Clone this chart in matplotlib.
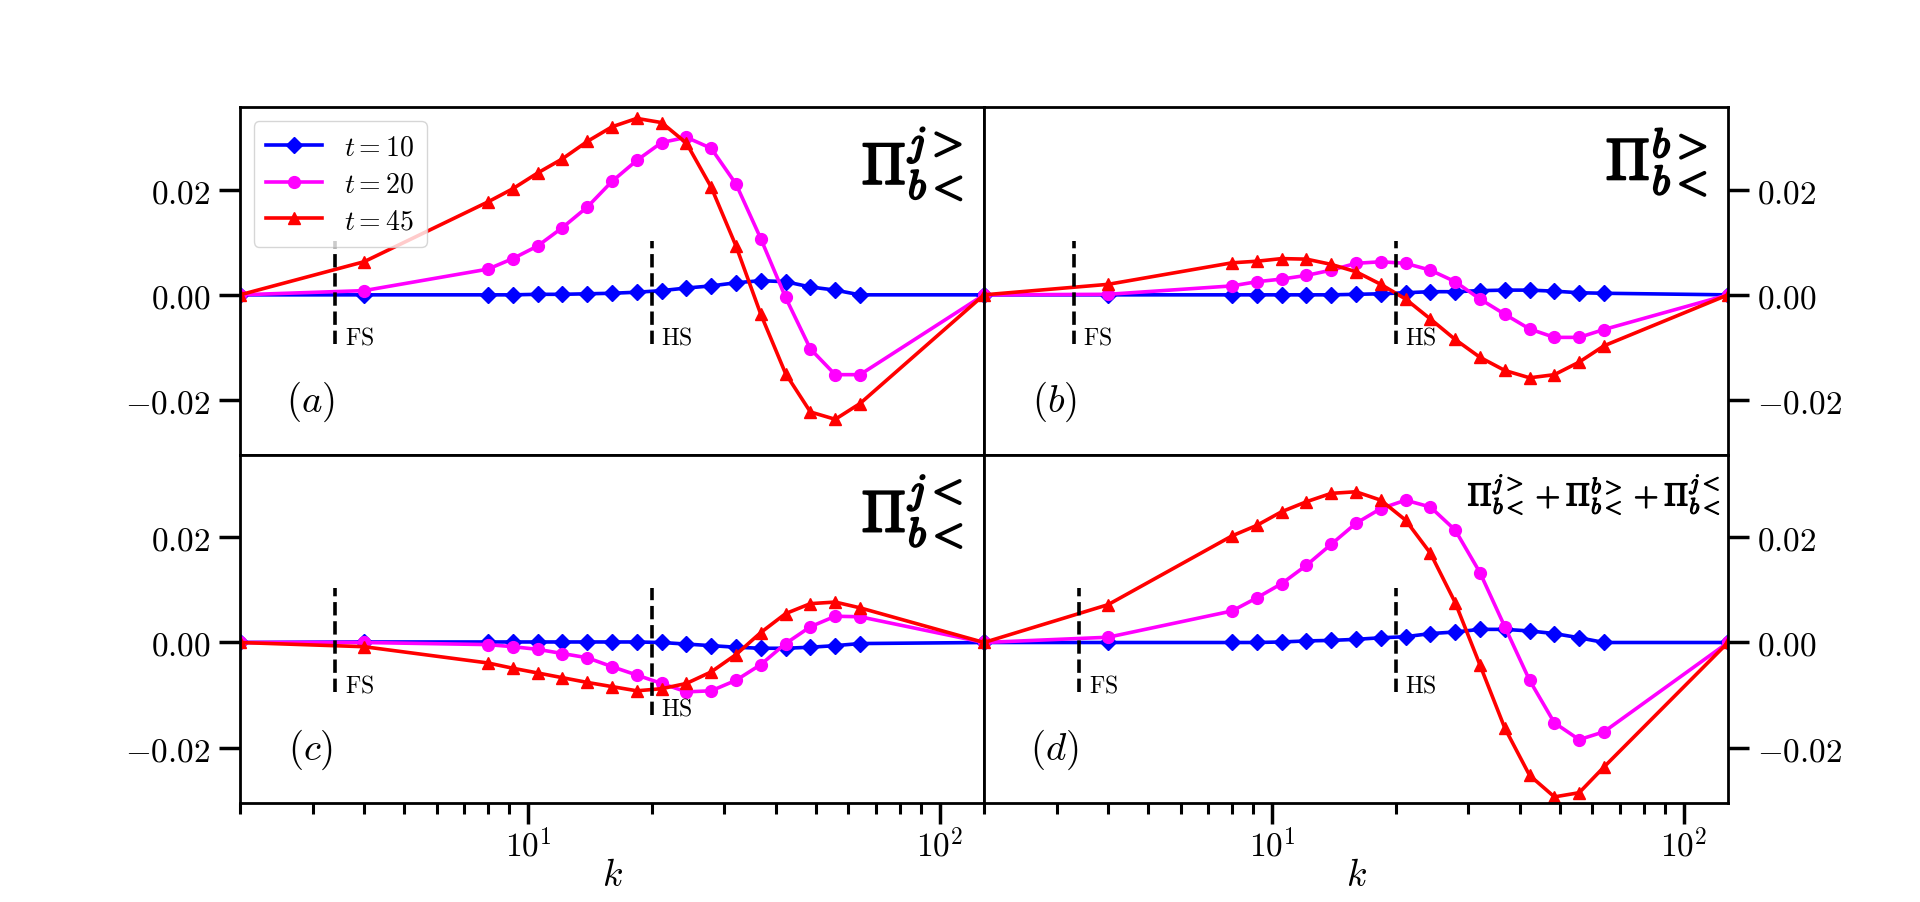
import numpy as np
import matplotlib
matplotlib.use("Agg")
import matplotlib.pyplot as plt
from matplotlib.ticker import FixedLocator, FuncFormatter, LogLocator, NullFormatter
import matplotlib.patheffects as pe

plt.rcParams['mathtext.fontset'] = 'cm'
plt.rcParams['font.family'] = ['DejaVu Serif']

# wavenumbers (shells)
k = [2, 4] + [2 ** (3 + 0.2 * i) for i in range(16)] + [128]

labels = [r'$t=10$', r'$t=20$', r'$t=45$']

# panel (a)  Pi^{j>}_{b<}
a_t10 = [0, 0, 0, 0, 0.0001, 0.0001, 0.0002, 0.0003, 0.0005, 0.0008, 0.0013, 0.0017,
         0.0023, 0.0027, 0.0025, 0.0015, 0.0009, 0.0, 0]
a_t20 = [0, 0.0008, 0.0049, 0.0069, 0.0093, 0.0128, 0.0167, 0.0216, 0.0256, 0.0290, 0.0300,
         0.0279, 0.0211, 0.0107, -0.0005, -0.0103, -0.0152, -0.0152, 0]
a_t45 = [0, 0.0063, 0.0177, 0.0202, 0.0232, 0.0259, 0.0292, 0.0320, 0.0336, 0.0328, 0.0289,
         0.0205, 0.0093, -0.0037, -0.0150, -0.0223, -0.0237, -0.0207, 0]

# panel (b)  Pi^{b>}_{b<}
b_t10 = [0, 0, 0, 0, 0, 0, 0, 0.0001, 0.0002, 0.0004, 0.0006, 0.0006, 0.0008, 0.0009,
         0.0009, 0.0007, 0.0004, 0.0003, 0]
b_t20 = [0, 0.0001, 0.0017, 0.0025, 0.0030, 0.0037, 0.0047, 0.0060, 0.0063, 0.0060, 0.0047,
         0.0025, -0.0008, -0.0037, -0.0065, -0.0081, -0.0081, -0.0066, 0]
b_t45 = [0, 0.0020, 0.0061, 0.0064, 0.0069, 0.0068, 0.0058, 0.0044, 0.0020, -0.0008, -0.0046,
         -0.0085, -0.0119, -0.0144, -0.0158, -0.0152, -0.0128, -0.0097, 0]

# panel (c)  Pi^{j<}_{b<}
c_t10 = [0, 0.0001, 0.0001, 0.0001, 0.0001, 0.0001, 0.0001, 0.0001, 0.0001, 0, -0.0003,
         -0.0006, -0.0009, -0.0011, -0.0011, -0.0009, -0.0006, -0.0002, 0]
c_t20 = [0, 0.0000, -0.0004, -0.0008, -0.0013, -0.0021, -0.0029, -0.0046, -0.0062, -0.0078,
         -0.0094, -0.0092, -0.0072, -0.0042, -0.0002, 0.0030, 0.0050, 0.0049, 0]
c_t45 = [0, -0.0008, -0.0039, -0.0049, -0.0058, -0.0067, -0.0076, -0.0084, -0.0092, -0.0088,
         -0.0078, -0.0056, -0.0023, 0.0019, 0.0055, 0.0074, 0.0077, 0.0066, 0]

# panel (d)  sum
d_t10 = [0, 0, 0, 0, 0.0001, 0.0003, 0.0004, 0.0006, 0.0009, 0.0011, 0.0017, 0.0020, 0.0025,
         0.0025, 0.0022, 0.0017, 0.0009, 0.0, 0]
d_t20 = [0, 0.0010, 0.0060, 0.0085, 0.0112, 0.0147, 0.0187, 0.0227, 0.0255, 0.0271, 0.0258,
         0.0214, 0.0133, 0.0030, -0.0072, -0.0153, -0.0185, -0.0170, 0]
d_t45 = [0, 0.0072, 0.0203, 0.0223, 0.0249, 0.0268, 0.0284, 0.0287, 0.0271, 0.0233, 0.0170,
         0.0076, -0.0043, -0.0163, -0.0253, -0.0294, -0.0286, -0.0237, 0]

# scale markers: forcing scale (FS) and hyper-viscous scale (HS)
fs_k = [3.4, 3.3, 3.4, 3.4]
hs_k = [20, 20, 20, 20]
fs_span = [(-0.0094, 0.0102), (-0.0094, 0.0102), (-0.0094, 0.0103), (-0.0094, 0.0103)]
hs_span = [(-0.0094, 0.0102), (-0.0094, 0.0102), (-0.0138, 0.0103), (-0.0094, 0.0103)]

titles = [r'$\Pi^{j>}_{b<}$', r'$\Pi^{b>}_{b<}$', r'$\Pi^{j<}_{b<}$',
          r'$\Pi^{j>}_{b<}+\Pi^{b>}_{b<}+\Pi^{j<}_{b<}$']
panel_tags = [r'$(a)$', r'$(b)$', r'$(c)$', r'$(d)$']

data = [(a_t10, a_t20, a_t45), (b_t10, b_t20, b_t45), (c_t10, c_t20, c_t45), (d_t10, d_t20, d_t45)]

colors = ['#0000ff', '#ff00ff', '#ff0000']
markers = ['D', 'o', '^']
msizes = [8, 8.5, 9]

fig, axes = plt.subplots(2, 2, figsize=(19.2, 9.03), dpi=100, sharex=True, sharey=True)
fig.subplots_adjust(wspace=0, hspace=0)

yticks = [-0.02, 0.0, 0.02]
ytick_fmt = FuncFormatter(lambda v, p: r'$%.2f$' % v if abs(v) > 1e-9 else r'$0.00$')
xtick_fmt = FuncFormatter(lambda v, p: r'$10^{%d}$' % int(round(np.log10(v))))

for i, ax in enumerate(axes.flat):
    series = data[i]
    for s, c, m, ms, lab in zip(series, colors, markers, msizes, labels):
        ax.plot(k, s, color=c, marker=m, ms=ms, lw=2.6, label=lab, clip_on=True)
    lo, hi = fs_span[i]
    ax.plot([fs_k[i], fs_k[i]], [lo, hi], 'k--', lw=2.6, zorder=5)
    ax.text(fs_k[i] * 1.055, lo - 0.0008, r'$\mathrm{FS}$', fontsize=17, ha='left', va='bottom')
    lo, hi = hs_span[i]
    ax.plot([hs_k[i], hs_k[i]], [lo, hi], 'k--', lw=2.6, zorder=5)
    ax.text(hs_k[i] * 1.055, lo - 0.0008, r'$\mathrm{HS}$', fontsize=17, ha='left', va='bottom')

    ax.set_xscale('log')
    ax.set_xlim(2, 128)
    ax.set_ylim(-0.0305, 0.0357)
    ax.yaxis.set_major_locator(FixedLocator(yticks))
    ax.yaxis.set_major_formatter(ytick_fmt)
    ax.xaxis.set_major_locator(LogLocator(base=10))
    ax.xaxis.set_major_formatter(xtick_fmt)
    ax.xaxis.set_minor_locator(LogLocator(base=10, subs=np.arange(2, 10)))
    ax.xaxis.set_minor_formatter(NullFormatter())

    for sp in ax.spines.values():
        sp.set_linewidth(2.0)

    ax.tick_params(axis='both', which='major', direction='out', length=15, width=2.5,
                   labelsize=24, pad=6)
    ax.tick_params(axis='x', which='major', pad=3)
    ax.tick_params(axis='x', which='minor', direction='out', length=8, width=2.2)
    ax.tick_params(axis='x', top=False, which='both')
    row, col = divmod(i, 2)
    if row == 0:
        ax.tick_params(axis='x', which='both', bottom=False, labelbottom=False)
    else:
        ax.set_xlabel(r'$k$', fontsize=27, labelpad=-4)
    if col == 0:
        ax.tick_params(axis='y', left=True, right=False, labelleft=True, labelright=False)
    else:
        ax.tick_params(axis='y', left=False, right=True, labelleft=False, labelright=True)

    if i < 3:
        t = ax.text(0.972, 0.95, titles[i], transform=ax.transAxes, ha='right', va='top',
                    fontsize=42)
        t.set_path_effects([pe.withStroke(linewidth=1.6, foreground='black')])
    else:
        t = ax.text(0.99, 0.95, titles[i], transform=ax.transAxes, ha='right', va='top',
                    fontsize=23)
        t.set_path_effects([pe.withStroke(linewidth=0.9, foreground='black')])
    ax.text(0.095, 0.155, panel_tags[i], transform=ax.transAxes, ha='center', va='center',
            fontsize=28)

axes[0, 0].legend(loc='upper left', fontsize=20, handlelength=2.0, borderpad=0.45,
                  labelspacing=0.35, handletextpad=0.8)

fig.savefig('out.png', dpi=100)
